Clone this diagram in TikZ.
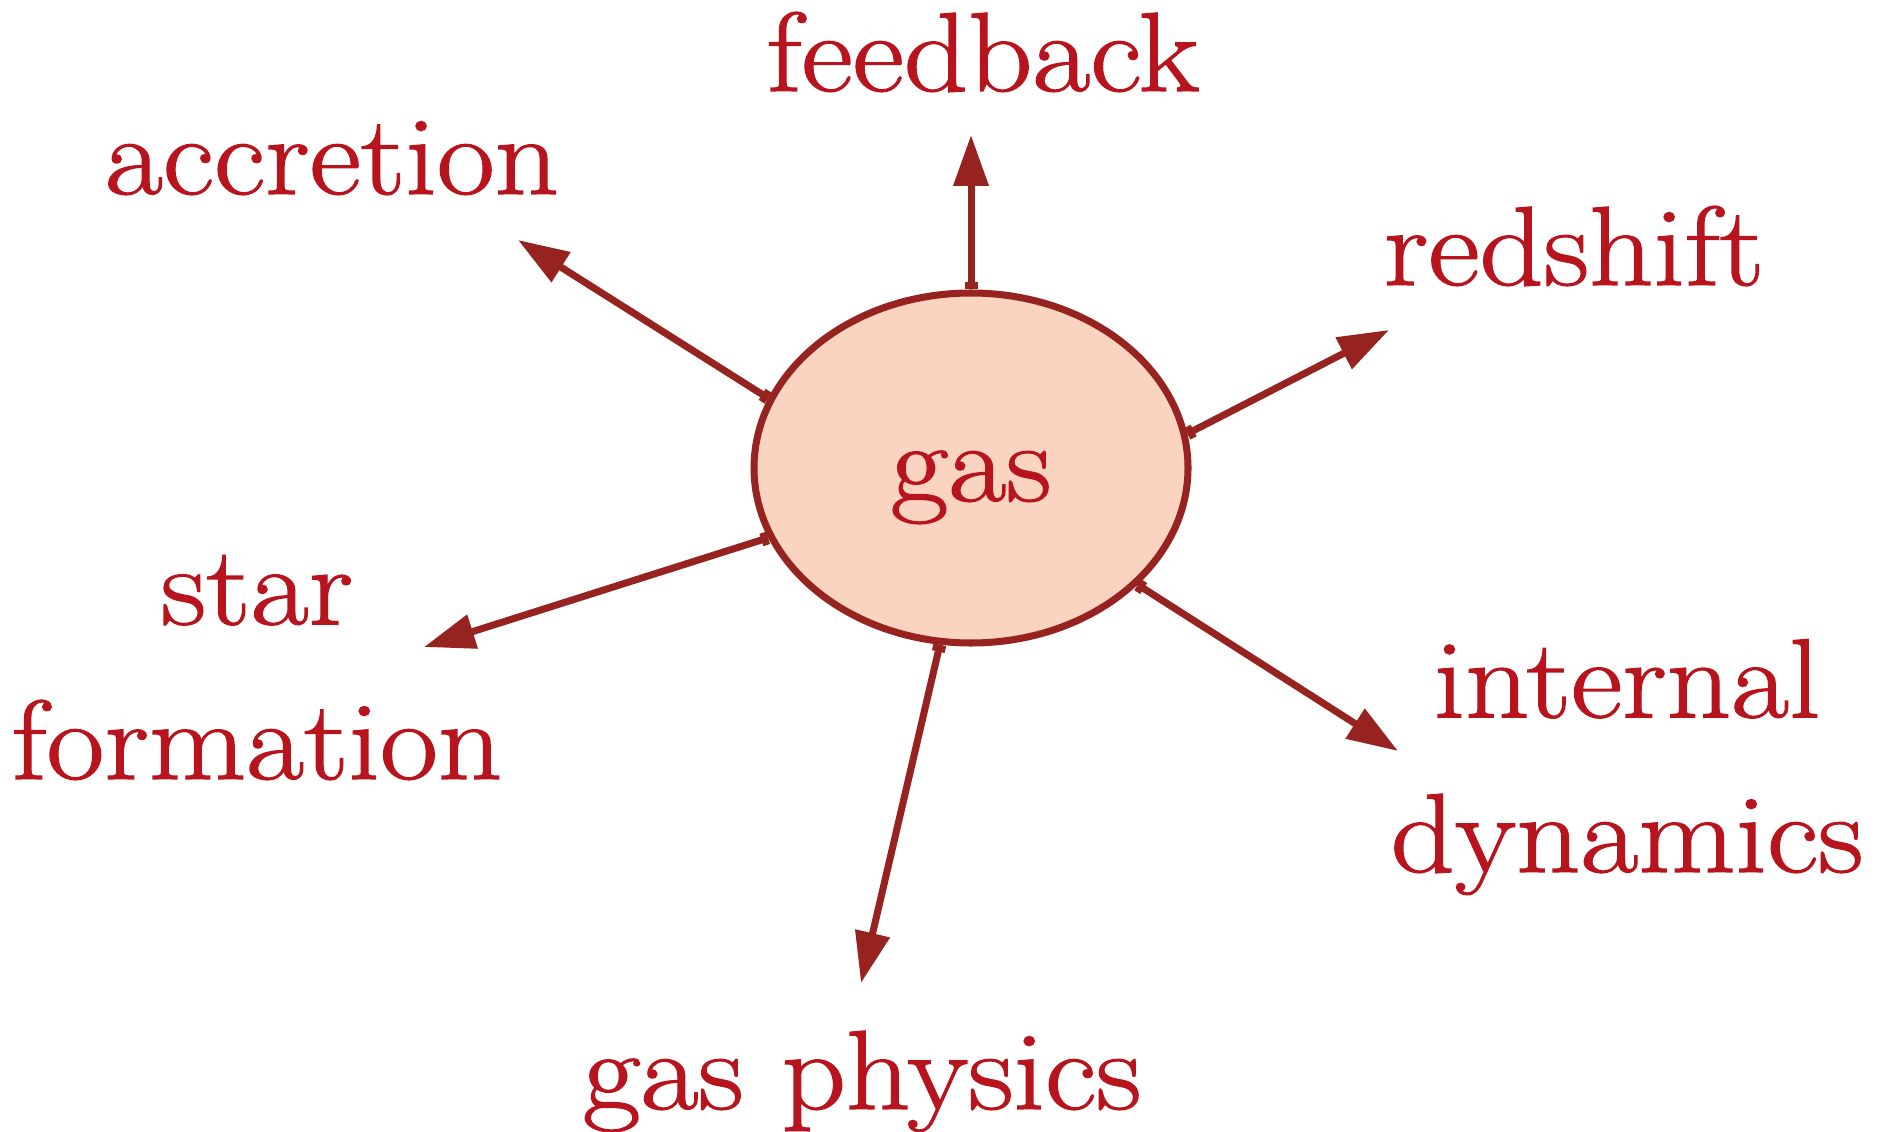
\documentclass[tikz,border=0pt]{standalone}
\usepackage{fontspec}
\setmainfont{Latin Modern Roman}[FakeStretch=1.12, FakeBold=1.2]
\usepackage{tikz}
\usetikzlibrary{shapes.geometric, arrows.meta, positioning}

\definecolor{labelred}{RGB}{184,20,30}
\definecolor{arrowred}{RGB}{150,35,32}
\definecolor{gasfill}{RGB}{251,211,193}

\begin{document}
\begin{tikzpicture}[
    every node/.style={text=labelred, font=\fontsize{32}{44}\selectfont},
    lbl/.style={anchor=base, align=center, inner sep=0pt},
    arr/.style={arrowred, line width=2pt,
                {Bar[width=0.13cm]}-{Triangle[length=0.51cm, width=0.34cm]}}
  ]
    \useasboundingbox (0,0) rectangle (18.8,11.31);

    \node[ellipse, draw=arrowred, line width=2pt, fill=gasfill,
          minimum width=4.34cm, minimum height=3.5cm, inner sep=0pt] (gas) at (9.71,6.63) {};
    \node[lbl] (gaslbl) at (9.71,6.30) {gas};

    % labels
    \node[lbl] (feedback) at (9.83,10.40) {feedback};
    \node[lbl] (accretion) at (3.32,9.37) {accretion};
    \node[lbl] (redshift) at (15.74,8.46) {redshift};
    \node[lbl] (star) at (2.57,3.52) {star\\formation};
    \node[lbl] (internal) at (16.27,2.59) {internal\\dynamics};
    \node[lbl] (gasphys) at (8.62,0.22) {gas physics};

    % arrow tips
    \coordinate (feedbackT) at (9.71,9.96);
    \coordinate (accretionT) at (5.18,8.91);
    \coordinate (redshiftT) at (13.89,8.01);
    \coordinate (starT) at (4.24,4.84);
    \coordinate (internalT) at (13.98,3.80);
    \coordinate (gasphysT) at (8.61,1.48);

    \draw[arr] (gas.90) -- (feedbackT);
    \draw[arr] (gas.161) -- (accretionT);
    \draw[arr] (gas.9.2) -- (redshiftT);
    \draw[arr] (gas.199.5) -- (starT);
    \draw[arr] (gas.325) -- (internalT);
    \draw[arr] (gas.260.3) -- (gasphysT);
  \end{tikzpicture}
\end{document}
